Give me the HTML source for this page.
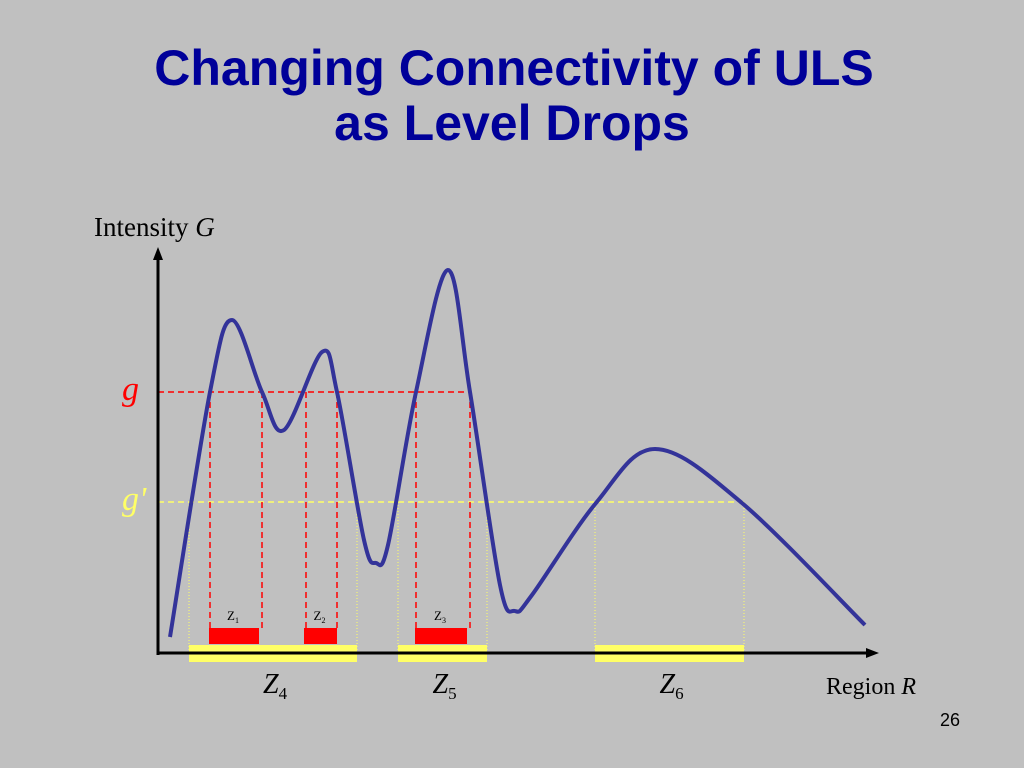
<!DOCTYPE html>
<html><head><meta charset="utf-8"><style>
html,body{margin:0;padding:0;background:#c0c0c0;}
svg{display:block}
</style></head><body>
<svg width="1024" height="768" viewBox="0 0 1024 768">
<rect width="1024" height="768" fill="#c0c0c0"/>
<text x="514" y="85" text-anchor="middle" font-family="Liberation Sans, sans-serif" font-weight="bold" font-size="50" fill="#000099">Changing Connectivity of ULS</text>
<text x="512" y="140" text-anchor="middle" font-family="Liberation Sans, sans-serif" font-weight="bold" font-size="50" fill="#000099">as Level Drops</text>
<text x="94" y="236" font-family="Liberation Serif, serif" font-size="27" fill="#000">Intensity <tspan font-style="italic">G</tspan></text>
<text x="826" y="694" font-family="Liberation Serif, serif" font-size="24" fill="#000">Region <tspan font-style="italic">R</tspan></text>
<text x="960" y="726" text-anchor="end" font-family="Liberation Sans, sans-serif" font-size="18" fill="#000">26</text>
<g id="chart"></g>
</svg>
<script>
// curve samples: region position and intensity (origin at axis corner)
const curveX = [12,52,74,104,126,164,179,206,218,230,258,290,312,342,357,374,438,497,584,707];
const curveY = [16,261,333,261,223,301,261,113,90,108,261,383,261,68,42,58,150,204,150,28];
const levelG = 261, levelGp = 151;
const redZones = [[51,101,"1"],[146,179,"2"],[257,309,"3"]];
const yellowZones = [[31,199,"4"],[240,329,"5"],[437,586,"6"]];
const redLines = [52,104,148,179,258,312];

const OX = 158, OY = 653;
const sx = v => OX + v, sy = v => OY - v;
const NS = "http://www.w3.org/2000/svg";
const g = document.getElementById('chart');
function mk(t, a){ const e=document.createElementNS(NS,t); for(const k in a) e.setAttribute(k,a[k]); g.appendChild(e); return e; }

yellowZones.forEach(z=>{ [z[0],z[1]].forEach(x=>{
  const l=mk('line',{x1:sx(x),x2:sx(x),y1:sy(levelGp),y2:sy(-2),stroke:'#ffff66','stroke-width':1,'stroke-dasharray':'1,2'});
  
  
});});
const yl=mk('line',{x1:sx(0),x2:sx(586),y1:sy(levelGp),y2:sy(levelGp),stroke:'#ffff66','stroke-width':1.5,'stroke-dasharray':'6,4'});


redLines.forEach(x=>{
  const l=mk('line',{x1:sx(x),x2:sx(x),y1:sy(levelG),y2:sy(25),stroke:'#ff0000','stroke-width':1.5,'stroke-dasharray':'6,4'});
  
  
});
const rl=mk('line',{x1:sx(0),x2:sx(312),y1:sy(levelG),y2:sy(levelG),stroke:'#ff0000','stroke-width':1.5,'stroke-dasharray':'6,4'});



yellowZones.forEach(z=>{
  const r=mk('rect',{x:sx(z[0]),y:sy(8),width:z[1]-z[0],height:17,fill:'#ffff66'});
  
  
  const t=mk('text',{x:sx((z[0]+z[1])/2)-10,y:693,'font-family':'Liberation Serif, serif','font-size':28,'font-style':'italic',fill:'#000'});
  t.innerHTML='Z<tspan font-size="17" font-style="normal" dy="6">'+z[2]+'</tspan>';
  
  
});
const ax=mk('line',{x1:sx(0),x2:sx(0),y1:sy(-2),y2:258,stroke:'#000','stroke-width':3});


const ah=mk('polygon',{points:`${sx(0)-5},260 ${sx(0)+5},260 ${sx(0)},247`,fill:'#000'});


const bx=mk('line',{x1:sx(-1),x2:870,y1:sy(0),y2:sy(0),stroke:'#000','stroke-width':3});


const bh=mk('polygon',{points:`866,${sy(0)-5} 866,${sy(0)+5} 879,${sy(0)}`,fill:'#000'});



redZones.forEach(z=>{
  const r=mk('rect',{x:sx(z[0]),y:sy(25),width:z[1]-z[0],height:16,fill:'#ff0000'});
  
  
  const t=mk('text',{x:sx((z[0]+z[1])/2)-7,y:620,'font-family':'Liberation Serif, serif','font-size':13,fill:'#000'});
  t.innerHTML='Z<tspan font-size="8" dy="3">'+z[2]+'</tspan>';
  
  
});

const P=curveX.map((x,i)=>[sx(x),sy(curveY[i])]);
let d=`M${P[0][0]},${P[0][1]}`;
for(let i=0;i<P.length-1;i++){
  const p0=P[Math.max(0,i-1)],p1=P[i],p2=P[i+1],p3=P[Math.min(P.length-1,i+2)];
  const c1=[p1[0]+(p2[0]-p0[0])/6,p1[1]+(p2[1]-p0[1])/6];
  const c2=[p2[0]-(p3[0]-p1[0])/6,p2[1]-(p3[1]-p1[1])/6];
  d+=` C${c1[0]},${c1[1]} ${c2[0]},${c2[1]} ${p2[0]},${p2[1]}`;
}
const cv=mk('path',{d:d,fill:'none',stroke:'#333399','stroke-width':4,'stroke-linejoin':'round'});



const tg=mk('text',{x:122,y:sy(levelG)+8,'font-family':'Liberation Serif, serif','font-size':34,'font-style':'italic',fill:'#ff0000'});
tg.textContent='g';


const tgp=mk('text',{x:122,y:sy(levelGp)+8,'font-family':'Liberation Serif, serif','font-size':34,'font-style':'italic',fill:'#ffff66'});
tgp.textContent="g'";


</script>
</body></html>
